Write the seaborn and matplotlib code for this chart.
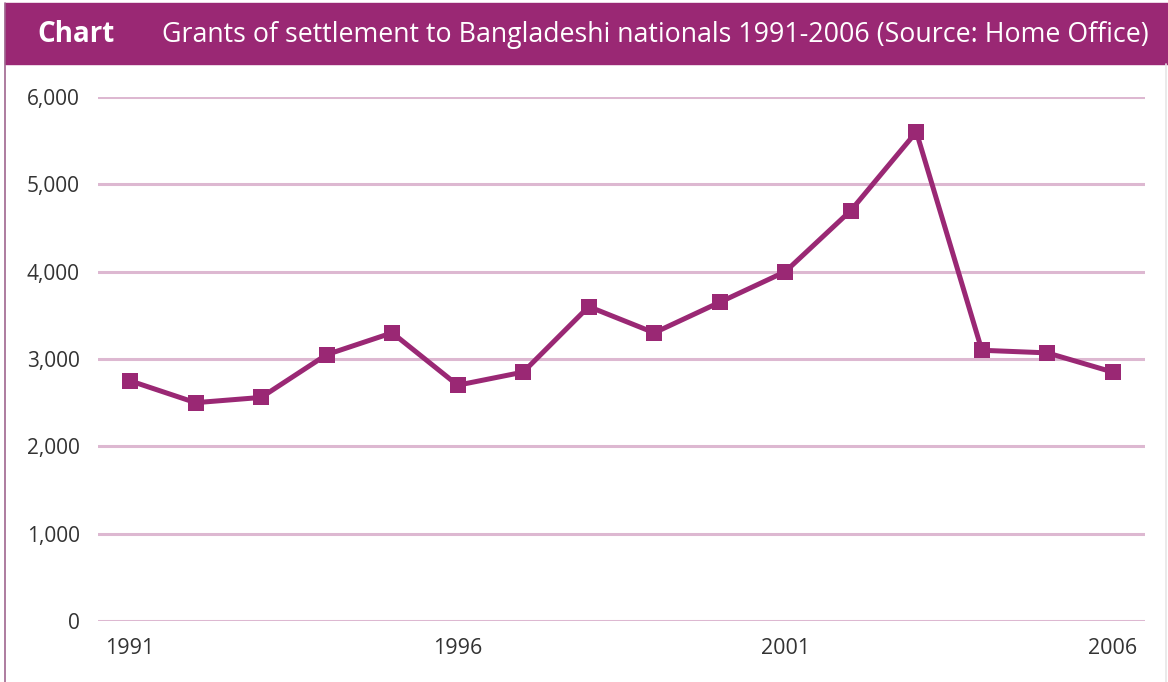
import matplotlib
matplotlib.use("Agg")
import matplotlib.pyplot as plt
import seaborn as sns
import pandas as pd
from matplotlib.patches import Rectangle
from matplotlib.lines import Line2D
from matplotlib.ticker import FuncFormatter

years = list(range(1991, 2007))
grants = [2750, 2500, 2560, 3050, 3300, 2700, 2850, 3600, 3300, 3650, 4000, 4700, 5600, 3100, 3070, 2850]
xtick_years = [1991, 1996, 2001, 2006]
ytick_values = [0, 1000, 2000, 3000, 4000, 5000, 6000]
header_label = "Chart"
title_text = "Grants of settlement to Bangladeshi nationals 1991-2006 (Source: Home Office)"

PURPLE = "#9A2874"
GRID = "#DDB8D1"
TEXT = "#333333"

sns.set_theme(style="white")
plt.rcParams['font.family'] = ['Open Sans', 'DejaVu Sans']

df = pd.DataFrame({"year": years, "grants": grants})

fig = plt.figure(figsize=(11.68, 6.82), dpi=100)
ax = fig.add_axes([98/1168, 1 - 621/682, (1145 - 98)/1168, (621 - 97)/682])

sns.lineplot(data=df, x="year", y="grants", ax=ax, color=PURPLE, linewidth=3.6,
             marker="s", markersize=12, markeredgewidth=0, markerfacecolor=PURPLE,
             clip_on=False, zorder=3)

ax.set_xlim(1990.51, 2006.49)
ax.set_ylim(0, 6000)
ax.set_yticks(ytick_values)
ax.set_xticks(xtick_years)
ax.yaxis.set_major_formatter(FuncFormatter(lambda v, p: f"{int(v):,}"))
ax.grid(axis="y", color=GRID, linewidth=2.2)
ax.grid(axis="x", visible=False)
ax.set_axisbelow(True)
for s in ax.spines.values():
    s.set_visible(False)
ax.tick_params(axis="x", length=0, labelsize=15.5, colors=TEXT, pad=12)
ax.tick_params(axis="y", length=0, labelsize=15, colors=TEXT, pad=13)
ax.set_xlabel("")
ax.set_ylabel("")

# header band
fig.patches.append(Rectangle((5/1168, 1 - 64/682), 1 - 5/1168, 61/682,
                             transform=fig.transFigure, color=PURPLE, zorder=0))
fig.text(37/1168, 1 - 35/682, header_label, color="white", fontsize=20,
         fontweight="bold", va="center", ha="left")
fig.text(162/1168, 1 - 35/682, title_text, color="white", fontsize=19.3,
         va="center", ha="left")

# frame lines
fig.lines.append(Line2D([5/1168, 5/1168], [0, 1 - 3/682], transform=fig.transFigure,
                        color="#A0668F", linewidth=1.2))
fig.lines.append(Line2D([1166/1168, 1166/1168], [0, 1 - 64/682], transform=fig.transFigure,
                        color="#E6E6E6", linewidth=1.2))

fig.savefig("out.png", dpi=100)
